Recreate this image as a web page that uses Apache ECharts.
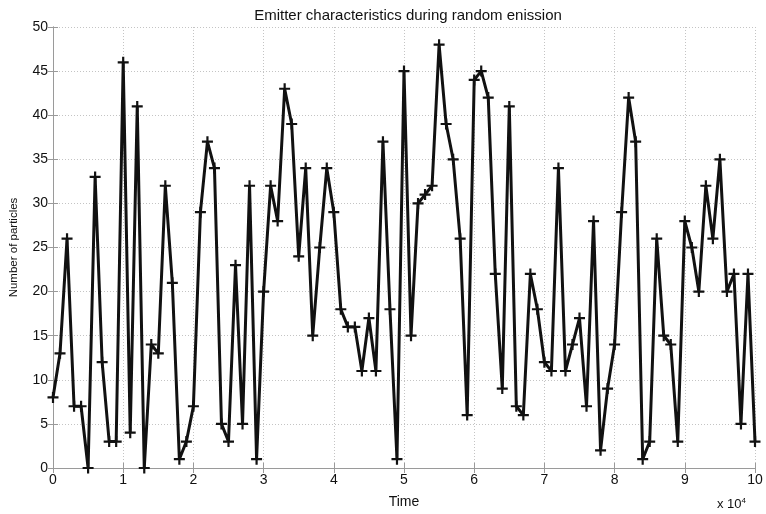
<!DOCTYPE html>
<html>
<head>
<meta charset="utf-8">
<script src="https://cdn.jsdelivr.net/npm/echarts@6/dist/echarts.min.js"></script>
<style>
  html, body { margin: 0; padding: 0; background: #fff; }
  #chart { width: 766px; height: 514px; }
</style>
</head>
<body>
<div id="chart"></div>
<script>
// time samples, in units of 1000 (axis shows x 10^4)
const times = [
  0, 1, 2, 3, 4, 5, 6, 7, 8, 9,
  10, 11, 12, 13, 14, 15, 16, 17, 18, 19,
  20, 21, 22, 23, 24, 25, 26, 27, 28, 29,
  30, 31, 32, 33, 34, 35, 36, 37, 38, 39,
  40, 41, 42, 43, 44, 45, 46, 47, 48, 49,
  50, 51, 52, 53, 54, 55, 56, 57, 58, 59,
  60, 61, 62, 63, 64, 65, 66, 67, 68, 69,
  70, 71, 72, 73, 74, 75, 76, 77, 78, 79,
  80, 81, 82, 83, 84, 85, 86, 87, 88, 89,
  90, 91, 92, 93, 94, 95, 96, 97, 98, 99,
  100
]
// number of particles at each time
const particles = [
  8, 13, 26, 7, 7, 0, 33, 12, 3, 3,
  46, 4, 41, 0, 14, 13, 32, 21, 1, 3,
  7, 29, 37, 34, 5, 3, 23, 5, 32, 1,
  20, 32, 28, 43, 39, 24, 34, 15, 25, 34,
  29, 18, 16, 16, 11, 17, 11, 37, 18, 1,
  45, 15, 30, 31, 32, 48, 39, 35, 26, 6,
  44, 45, 42, 22, 9, 41, 7, 6, 22, 18,
  12, 11, 34, 11, 14, 17, 7, 28, 2, 9,
  14, 29, 42, 37, 1, 3, 26, 15, 14, 3,
  28, 25, 20, 32, 26, 35, 20, 22, 5, 22,
  3
]

const chart = echarts.init(document.getElementById('chart'))
const plus = 'path://M4,0H6V4H10V6H6V10H4V6H0V4H4Z'
const boxColor = '#9a9a9a'
const font = 'Liberation Sans, Arial, sans-serif'
const labelFont = { color: '#111', fontSize: 14, fontFamily: font }

const option = {
  backgroundColor: '#fff',
  animation: false,
  title: {
    text: 'Emitter characteristics during random enission',
    left: 403,
    textAlign: 'center',
    top: 3,
    textStyle: { color: '#111', fontSize: 15, fontWeight: 'normal', fontFamily: font }
  },
  grid: { left: 52, right: 11, top: 27, bottom: 44 },
  xAxis: [{
    type: 'value',
    min: 0, max: 100, interval: 10,
    axisLine: { lineStyle: { color: boxColor, width: 1 } },
    axisTick: { inside: true, length: 5, lineStyle: { color: boxColor } },
    axisLabel: Object.assign({ margin: 5, formatter: v => String(v / 10) }, labelFont),
    splitLine: { show: true, lineStyle: { color: '#c4c4c4', type: [1, 2] } },
    name: 'Time',
    nameLocation: 'middle',
    nameGap: 27,
    nameTextStyle: labelFont
  }, {
    type: 'value',
    position: 'top',
    min: 0, max: 100, interval: 10,
    axisLine: { show: true, lineStyle: { color: boxColor, width: 1 } },
    axisTick: { inside: true, length: 5, lineStyle: { color: boxColor } },
    axisLabel: { show: false },
    splitLine: { show: false }
  }],
  yAxis: [{
    type: 'value',
    min: 0, max: 50, interval: 5,
    axisLine: { show: true, lineStyle: { color: boxColor, width: 1 } },
    axisTick: { show: true, inside: true, length: 5, lineStyle: { color: boxColor } },
    axisLabel: Object.assign({ margin: 5 }, labelFont),
    splitLine: { show: true, lineStyle: { color: '#c4c4c4', type: [1, 2] } },
    name: 'Number of particles',
    nameLocation: 'middle',
    nameGap: 33,
    nameTextStyle: { color: '#111', fontSize: 11.5, fontFamily: font }
  }, {
    type: 'value',
    position: 'right',
    min: 0, max: 50, interval: 5,
    axisLine: { show: true, lineStyle: { color: boxColor, width: 1 } },
    axisTick: { show: true, inside: true, length: 5, lineStyle: { color: boxColor } },
    axisLabel: { show: false },
    splitLine: { show: false }
  }],
  graphic: [{
    type: 'text',
    left: 717,
    top: 497,
    style: {
      text: 'x 10{s|4}',
      fill: '#111',
      font: '13px Liberation Sans, Arial, sans-serif',
      rich: { s: { fontSize: 8, verticalAlign: 'top', padding: [0, 0, 6, 0] } }
    }
  }],
  series: [{
    type: 'line',
    data: times.map((t, i) => [t, particles[i]]),
    lineStyle: { color: '#111', width: 3 },
    symbol: plus,
    symbolSize: 11,
    itemStyle: { color: '#111' },
    showSymbol: true,
    z: 5
  }]
}
chart.setOption(option)
</script>
</body>
</html>
